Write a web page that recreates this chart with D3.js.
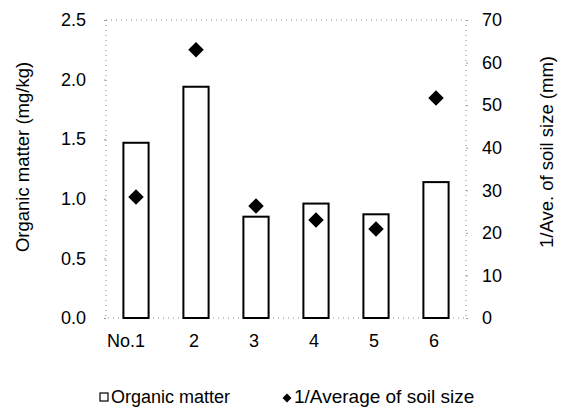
<!DOCTYPE html>
<html>
<head>
<meta charset="utf-8">
<script src="https://cdn.jsdelivr.net/npm/d3@7"></script>
<style>
  body { margin: 0; background: #fff; }
  text { font-family: "Liberation Sans", Arial, sans-serif; fill: #000; }
</style>
</head>
<body>
<svg id="chart" width="564" height="415"></svg>
<script>
const categories = ["No.1", "2", "3", "4", "5", "6"];
const organicMatter = [1.47, 1.94, 0.85, 0.96, 0.87, 1.14];
const inverseSoilSize = [28.4, 63.0, 26.3, 23.0, 20.9, 51.7];
const leftTicks = [0, 0.5, 1.0, 1.5, 2.0, 2.5];
const rightTicks = [0, 10, 20, 30, 40, 50, 60, 70];
const legendLabels = ["Organic matter", "1/Average of soil size"];

const svg = d3.select("#chart");
const x0 = 106, x1 = 466, yTop = 20, yBot = 318;

const x = d3.scaleBand().domain(categories).range([x0, x1]).paddingInner(0.58).paddingOuter(0.29);
const yL = d3.scaleLinear().domain([0, 2.5]).range([yBot, yTop]);
const yR = d3.scaleLinear().domain([0, 70]).range([yBot, yTop]);

// plot-area border (faint dotted)
svg.append("rect")
  .attr("x", x0).attr("y", yTop).attr("width", x1 - x0).attr("height", yBot - yTop)
  .attr("fill", "none").attr("stroke", "#888").attr("stroke-width", 1)
  .attr("stroke-dasharray", "1,4");

// left axis
const gL = svg.append("g").attr("transform", `translate(${x0},0)`)
  .call(d3.axisLeft(yL).tickValues(leftTicks).tickFormat(d3.format(".1f")).tickSize(2).tickPadding(18));
gL.select(".domain").remove();
gL.selectAll(".tick line").attr("stroke", "#999");
gL.selectAll("text").style("font-size", "18px").attr("font-family", "Liberation Sans, Arial, sans-serif");

// right axis
const gR = svg.append("g").attr("transform", `translate(${x1},0)`)
  .call(d3.axisRight(yR).tickValues(rightTicks).tickFormat(d3.format("d")).tickSize(2).tickPadding(14));
gR.select(".domain").remove();
gR.selectAll(".tick line").attr("stroke", "#999");
gR.selectAll("text").style("font-size", "18px").attr("font-family", "Liberation Sans, Arial, sans-serif");

// bottom axis labels
const gB = svg.append("g").attr("transform", `translate(0,${yBot})`)
  .call(d3.axisBottom(x).tickSize(0).tickPadding(16));
gB.select(".domain").remove();
gB.selectAll("text").style("font-size", "18px").attr("font-family", "Liberation Sans, Arial, sans-serif")
  .attr("dx", (d, i) => i === 0 ? "-10" : "-2");

// bars
svg.append("g").selectAll("rect")
  .data(organicMatter)
  .join("rect")
  .attr("x", (d, i) => x(categories[i]))
  .attr("y", d => yL(d))
  .attr("width", x.bandwidth())
  .attr("height", d => yBot - yL(d))
  .attr("fill", "#fff").attr("stroke", "#000").attr("stroke-width", 2);

// diamonds
const diamond = d3.symbol().type(d3.symbolSquare).size(120);
svg.append("g").selectAll("path")
  .data(inverseSoilSize)
  .join("path")
  .attr("d", diamond)
  .attr("transform", (d, i) => `translate(${x(categories[i]) + x.bandwidth() / 2},${yR(d)}) rotate(45)`)
  .attr("fill", "#000");

// axis titles
svg.append("text")
  .attr("transform", "translate(29,157) rotate(-90)")
  .attr("text-anchor", "middle")
  .style("font-size", "18.5px")
  .text("Organic matter (mg/kg)");
svg.append("text")
  .attr("transform", "translate(553,152) rotate(-90)")
  .attr("text-anchor", "middle")
  .style("font-size", "18.5px")
  .text("1/Ave. of soil size (mm)");

// legend
const ly = 397;
svg.append("rect").attr("x", 100).attr("y", ly - 4).attr("width", 8).attr("height", 8)
  .attr("fill", "#fff").attr("stroke", "#000").attr("stroke-width", 1.2);
svg.append("text").attr("x", 111).attr("y", ly + 6).style("font-size", "18px").text(legendLabels[0]);
svg.append("path").attr("d", d3.symbol().type(d3.symbolSquare).size(40))
  .attr("transform", `translate(287,${ly + 1}) rotate(45)`).attr("fill", "#000");
svg.append("text").attr("x", 294).attr("y", ly + 6).style("font-size", "19px").text(legendLabels[1]);
</script>
</body>
</html>
